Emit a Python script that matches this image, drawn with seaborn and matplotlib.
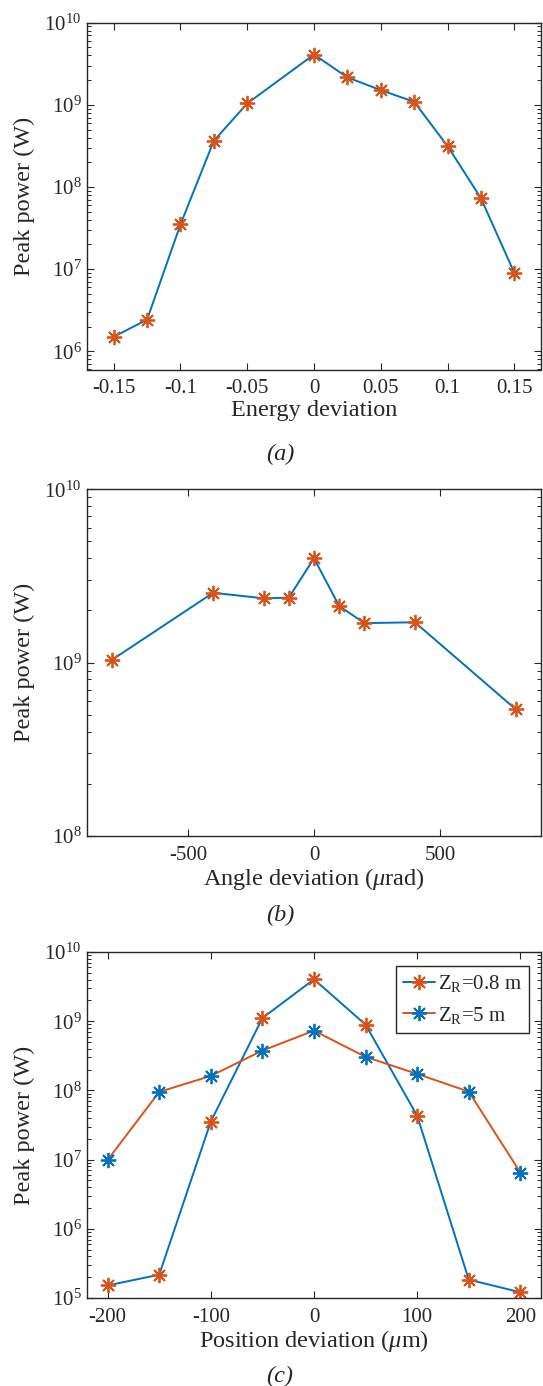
import numpy as np
import pandas as pd
import matplotlib
matplotlib.use("Agg")
import matplotlib.pyplot as plt
import seaborn as sns
from matplotlib.ticker import LogLocator, NullFormatter, FixedLocator

# ---------------- data ----------------
energy_dev = [-0.15, -0.125, -0.1, -0.075, -0.05, 0.0, 0.025, 0.05, 0.075, 0.1, 0.125, 0.15]
energy_power = [1.5e6, 2.43e6, 3.5e7, 3.65e8, 1.04e9, 4.1e9, 2.16e9, 1.51e9, 1.09e9, 3.15e8, 7.3e7, 9.0e6]

angle_dev = [-800, -400, -200, -100, 0, 100, 200, 400, 800]
angle_power = [1.04e9, 2.53e9, 2.35e9, 2.37e9, 4.0e9, 2.12e9, 1.69e9, 1.71e9, 5.38e8]

pos_dev = [-200, -150, -100, -50, 0, 50, 100, 150, 200]
pos_power_zr08 = [1.52e5, 2.17e5, 3.55e7, 1.11e9, 4.03e9, 8.9e8, 4.3e7, 1.84e5, 1.21e5]
pos_power_zr5 = [9.9e6, 9.5e7, 1.62e8, 3.76e8, 7.3e8, 3.05e8, 1.73e8, 9.6e7, 6.5e6]

series_labels = [r"Z$_\mathrm{R}$=0.8 m", r"Z$_\mathrm{R}$=5 m"]
xlabels = ["Energy deviation", r"Angle deviation ($\mu$rad)", r"Position deviation ($\mu$m)"]
ylabel = "Peak power (W)"
captions = ["(a)", "(b)", "(c)"]

BLUE = "#0072BD"
ORANGE = "#D95319"

# ---------------- style ----------------
sns.set_theme(style="ticks")
plt.rcParams.update({
    "font.family": ["Liberation Serif", "DejaVu Serif"],
    "mathtext.fontset": "custom",
    "mathtext.rm": "Liberation Serif",
    "mathtext.it": "Liberation Serif:italic",
    "mathtext.bf": "Liberation Serif:bold",
    "font.size": 17.5,
    "axes.labelsize": 17.5,
    "xtick.labelsize": 15,
    "ytick.labelsize": 15,
    "legend.fontsize": 15,
    "xtick.direction": "in",
    "ytick.direction": "in",
    "xtick.top": True,
    "ytick.right": True,
    "axes.edgecolor": "#262626",
    "axes.linewidth": 1.0,
    "xtick.major.size": 5,
    "ytick.major.size": 5,
    "ytick.minor.size": 3,
    "xtick.major.width": 0.8,
    "ytick.major.width": 0.8,
    "ytick.minor.width": 0.7,
    "xtick.color": "#262626",
    "ytick.color": "#262626",
    "text.color": "#262626",
    "axes.labelcolor": "#262626",
})

MARK = (8, 2, 0)
mk = dict(marker=MARK, markersize=11, markeredgewidth=1.3, linewidth=1.4)

fig = plt.figure(figsize=(5.43, 13.86), dpi=100)
L, W = 87 / 543, (541 - 87) / 543
H = 1386.0
axes_px = [(22.7, 369.5), (489.3, 836.0), (952.0, 1298.0)]
axs = [fig.add_axes([L, 1 - b / H, W, (b - t) / H]) for t, b in axes_px]

# (a)
ax = axs[0]
sns.lineplot(x=energy_dev, y=energy_power, ax=ax, color=BLUE, markeredgecolor=ORANGE, **mk)
ax.set_yscale("log")
ax.set_xlim(-0.17, 0.17)
ax.set_ylim(6e5, 1e10)
ax.xaxis.set_major_locator(FixedLocator([-0.15, -0.1, -0.05, 0, 0.05, 0.1, 0.15]))
ax.set_xticklabels(["-0.15", "-0.1", "-0.05", "0", "0.05", "0.1", "0.15"])

# (b)
ax = axs[1]
sns.lineplot(x=angle_dev, y=angle_power, ax=ax, color=BLUE, markeredgecolor=ORANGE, **mk)
ax.set_yscale("log")
ax.set_xlim(-900, 900)
ax.set_ylim(1e8, 1e10)
ax.xaxis.set_major_locator(FixedLocator([-500, 0, 500]))
ax.set_xticklabels(["-500", "0", "500"])

# (c)
ax = axs[2]
sns.lineplot(x=pos_dev, y=pos_power_zr08, ax=ax, color=BLUE, markeredgecolor=ORANGE,
             label=series_labels[0], **mk)
sns.lineplot(x=pos_dev, y=pos_power_zr5, ax=ax, color=ORANGE, markeredgecolor=BLUE,
             label=series_labels[1], **mk)
ax.set_yscale("log")
ax.set_xlim(-220, 220)
ax.set_ylim(1e5, 1e10)
ax.xaxis.set_major_locator(FixedLocator([-200, -100, 0, 100, 200]))
ax.set_xticklabels(["-200", "-100", "0", "100", "200"])
leg = ax.legend(loc="upper right", bbox_to_anchor=(0.974, 0.96), frameon=True,
                fancybox=False, edgecolor="#262626", framealpha=1,
                handlelength=1.5, handletextpad=0.15, borderpad=0.35,
                labelspacing=0.5, borderaxespad=0.0)
leg.get_frame().set_linewidth(1.0)

for i, ax in enumerate(axs):
    ax.yaxis.set_major_locator(LogLocator(base=10, numticks=20))
    ax.yaxis.set_minor_locator(LogLocator(base=10, subs=np.arange(2, 10), numticks=20))
    ax.yaxis.set_minor_formatter(NullFormatter())
    ax.tick_params(axis="x", which="major", pad=7)
    ax.tick_params(axis="y", which="both", pad=4)
    ax.set_xlabel(xlabels[i], labelpad=1)
    ax.set_ylabel(ylabel)
    ax.yaxis.set_label_coords(-0.115, 0.5)
    for s in ax.spines.values():
        s.set_visible(True)

cap_y = [454, 915, 1376]
for c, y in zip(captions, cap_y):
    fig.text(280 / 543, 1 - y / H, c, ha="center", va="center", style="italic", fontsize=17.5)

fig.savefig("out.png", dpi=100)
